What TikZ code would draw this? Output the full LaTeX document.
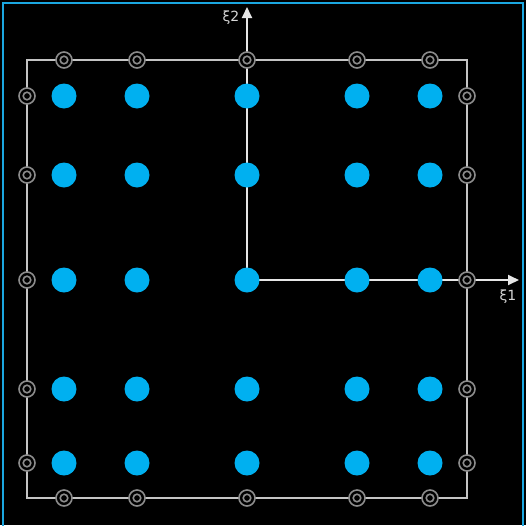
\documentclass[tikz,border=0pt]{standalone}
\usepackage{fontspec}
\setmainfont{DejaVu Sans}
\usetikzlibrary{arrows.meta}
\definecolor{dotblue}{HTML}{00B0F0}
\definecolor{edgeblue}{HTML}{1BA7E0}
\definecolor{framegray}{HTML}{C4C4C4}
\definecolor{ringgray}{HTML}{8C8C8C}
\definecolor{axisgray}{HTML}{E6E6E6}
\begin{document}
\begin{tikzpicture}[x=1pt,y=-1pt,
  dot/.style={circle,fill=dotblue,minimum size=25pt,inner sep=0pt},
  port/.style={circle,draw=ringgray,line width=1.6pt,fill=black,minimum size=16pt,inner sep=0pt,
    path picture={\draw[ringgray,line width=1.6pt] (path picture bounding box.center) circle (3.8pt);}},
  frameline/.style={framegray,line width=1.8pt},
  axisline/.style={axisgray,line width=1.8pt,-{Triangle[length=11pt,width=10pt]}},
  axislabel/.style={text=axisgray!85!gray,font=\fontsize{14}{16}\selectfont,inner sep=0pt}]
\fill[black] (0,0) rectangle (526,525);
\useasboundingbox (0,0) rectangle (526,525);
\draw[edgeblue,line width=2pt] (3,526) -- (3,3) -- (523,3) -- (523,526);
% frame
\coordinate (c1) at (27,60);
\coordinate (c2) at (467,498);
\draw[frameline] (c1) rectangle (c2);
% axes
\coordinate (O) at (247,280);
\coordinate (Y) at (247,7);
\coordinate (X) at (519,280);
\draw[axisline] (O) -- (Y);
\draw[axisline] (O) -- (X);
\node[axislabel] (lx2) at (231,18) {ξ2};
\node[axislabel] (lx1) at (508,297) {ξ1};
% boundary ports
\foreach \x [count=\i] in {64,137,247,357,430} {
  \node[port] (t\i) at (\x,60) {};
  \node[port] (b\i) at (\x,498) {};
}
\foreach \y [count=\j] in {96,175,280,389,463} {
  \node[port] (l\j) at (27,\y) {};
  \node[port] (r\j) at (467,\y) {};
}
% dots
\foreach \x [count=\i] in {64,137,247,357,430} {
  \foreach \y [count=\j] in {96,175,280,389,463} {
    \node[dot] (d\i\j) at (\x,\y) {};
  }
}
\end{tikzpicture}
\end{document}
